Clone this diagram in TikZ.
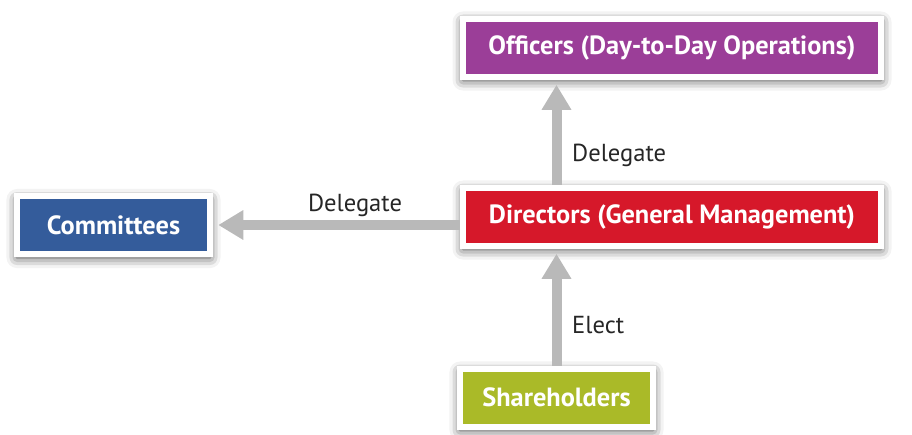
\documentclass[tikz,border=0pt]{standalone}
\usepackage{fontspec}
\setmainfont{PT Sans}
\usetikzlibrary{arrows.meta,shadows.blur}
\definecolor{offpurple}{RGB}{155,62,152}
\definecolor{dirred}{RGB}{214,24,42}
\definecolor{comblue}{RGB}{52,92,155}
\definecolor{shgreen}{RGB}{170,186,40}

\begin{document}
\begin{tikzpicture}[x=0.02cm,y=-0.02cm,>={Triangle[length=0.5cm,width=0.56cm]},
box/.style={draw=white,line width=0.12cm,text=white,font=\fontsize{15}{18}\selectfont\bfseries,
  minimum height=1.16cm,inner sep=0pt,
  blur shadow={shadow xshift=0pt,shadow yshift=-2pt,shadow blur radius=6pt,shadow opacity=75}},
link/.style={->,gray!55,line width=0.2cm,shorten >=3pt},
lab/.style={font=\fontsize{14}{17}\selectfont,text=black!85}]
\useasboundingbox (0,0) rectangle (912,434);
% The four bodies of the company.
\node[box,fill=offpurple,minimum width=8.36cm] (off) at (672,47.5) {Officers (Day-to-Day Operations)};
\node[box,fill=dirred,minimum width=8.36cm] (dir) at (672,216.5) {Directors (General Management)};
\node[box,fill=comblue,minimum width=3.86cm] (com) at (113.5,225) {Committees};
\node[box,fill=shgreen,minimum width=3.86cm] (sh) at (556.5,397.5) {Shareholders};
% Who elects and who delegates.
\draw[link] (sh.north) -- (sh.north |- dir.south);
\draw[link] (sh.north |- dir.north) -- (sh.north |- off.south);
\draw[link] (dir.west |- com.east) -- (com.east);
\node[lab,anchor=west] (l1) at (566,155) {Delegate};
\node[lab] (l2) at (355,205) {Delegate};
\node[lab,anchor=west] (l3) at (566,325) {Elect};
\end{tikzpicture}
\end{document}
